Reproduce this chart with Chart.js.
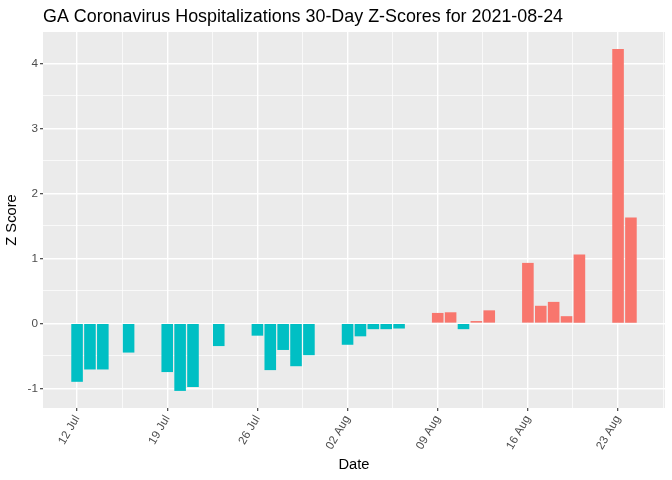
<!DOCTYPE html>
<html>
<head>
<meta charset="utf-8">
<script src="https://cdn.jsdelivr.net/npm/chart.js@4.4.1/dist/chart.umd.min.js"></script>
<style>
  html, body { margin: 0; padding: 0; background: #fff; }
  #quadro { width: 672px; height: 480px; }
</style>
</head>
<body>
<div id="quadro"><canvas id="grafico"></canvas></div>
<script>
// dados
const datas = [
  "2021-07-12", "2021-07-13", "2021-07-14", "2021-07-16",
  "2021-07-19", "2021-07-20", "2021-07-21", "2021-07-23",
  "2021-07-26", "2021-07-27", "2021-07-28", "2021-07-29", "2021-07-30",
  "2021-08-02", "2021-08-03", "2021-08-04", "2021-08-05", "2021-08-06",
  "2021-08-09", "2021-08-10", "2021-08-11", "2021-08-12", "2021-08-13",
  "2021-08-16", "2021-08-17", "2021-08-18", "2021-08-19", "2021-08-20",
  "2021-08-23", "2021-08-24"
];
const zScores = [
  -0.90, -0.71, -0.71, -0.45,
  -0.75, -1.04, -0.98, -0.35,
  -0.19, -0.72, -0.41, -0.66, -0.49,
  -0.33, -0.20, -0.09, -0.09, -0.08,
  0.16, 0.17, -0.09, 0.035, 0.20,
  0.93, 0.27, 0.33, 0.11, 1.06,
  4.22, 1.63
];
const ticksDatas = ["2021-07-12", "2021-07-19", "2021-07-26", "2021-08-02", "2021-08-09", "2021-08-16", "2021-08-23"];
const ticksY = [-1, 0, 1, 2, 3, 4];

const COR_POS = "#F8766D";
const COR_NEG = "#00BFC4";
const FONTE = "'Liberation Sans', Arial, sans-serif";
const MESES = ["Jan", "Feb", "Mar", "Apr", "May", "Jun", "Jul", "Aug", "Sep", "Oct", "Nov", "Dec"];
const DIA_MS = 86400000;
const base = Date.parse(datas[0] + "T00:00:00Z");

function diasDesdeBase(d) {
  return (Date.parse(d + "T00:00:00Z") - base) / DIA_MS;
}

function formatarData(dias) {
  const d = new Date(base + dias * DIA_MS);
  const dia = String(d.getUTCDate()).padStart(2, "0");
  return dia + " " + MESES[d.getUTCMonth()];
}

const pontos = datas.map((d, i) => ({ x: diasDesdeBase(d), y: zScores[i] }));
const cores = zScores.map(v => v >= 0 ? COR_POS : COR_NEG);

// limites com expansao de 5% como no ggplot
const xs = pontos.map(p => p.x);
const xMinDados = Math.min(...xs) - 0.45;
const xMaxDados = Math.max(...xs) + 0.45;
const xExp = (xMaxDados - xMinDados) * 0.05;
const xMin = xMinDados - xExp;
const xMax = xMaxDados + xExp;
const yMinDados = Math.min(0, ...zScores);
const yMaxDados = Math.max(0, ...zScores);
const yExp = (yMaxDados - yMinDados) * 0.05;
const yMin = yMinDados - yExp;
const yMax = yMaxDados + yExp;

// grade principal e secundaria (secundaria primeiro para nao afetar o padding)
const majorX = ticksDatas.map(diasDesdeBase);
const minorX = [];
for (let i = 0; i <= majorX.length; i++) {
  const v = (i < majorX.length ? majorX[i] : majorX[i - 1] + 7) - 3.5;
  if (v > xMin && v < xMax) minorX.push(v);
}
const minorY = ticksY.map(v => v - 0.5).concat([ticksY[ticksY.length - 1] + 0.5]).filter(v => v > yMin && v < yMax);

const painel = {
  id: "painel",
  beforeDraw(chart) {
    const { ctx, chartArea: a } = chart;
    ctx.save();
    ctx.fillStyle = "#fff";
    ctx.fillRect(0, 0, chart.width, chart.height);
    ctx.fillStyle = "#EBEBEB";
    ctx.fillRect(a.left, a.top, a.right - a.left, a.bottom - a.top);
    ctx.restore();
  },
  afterDraw(chart) {
    const { ctx, chartArea: a } = chart;
    ctx.save();
    ctx.fillStyle = "#000";
    ctx.font = "17.9px " + FONTE;
    ctx.textBaseline = "alphabetic";
    ctx.textAlign = "left";
    ctx.fillText("GA Coronavirus Hospitalizations 30-Day Z-Scores for 2021-08-24", a.left, 22);
    ctx.restore();
  }
};

const larguraLinha = c => (c.tick && c.tick.principal) ? 1.4 : 0.7;
const corMarca = c => (c.tick && c.tick.principal) ? "#333333" : "rgba(0,0,0,0)";

new Chart(document.getElementById("grafico").getContext("2d"), {
  type: "bar",
  data: {
    datasets: [{
      data: pontos,
      backgroundColor: cores,
      borderWidth: 0,
      barPercentage: 0.9,
      categoryPercentage: 1.0,
    }],
  },
  options: {
    responsive: true,
    maintainAspectRatio: false,
    animation: false,
    layout: { padding: { top: 32, right: 7, left: 0, bottom: 0 } },
    plugins: { legend: { display: false }, tooltip: { enabled: false } },
    scales: {
      x: {
        type: "linear",
        min: xMin,
        max: xMax,
        offset: false,
        afterBuildTicks: s => {
          s.ticks = minorX.map(v => ({ value: v, principal: false }))
            .concat(majorX.map(v => ({ value: v, principal: true })));
        },
        afterFit: s => { s.height = 72; },
        grid: { offset: false, color: "#fff", lineWidth: larguraLinha, tickColor: corMarca, tickWidth: 1.1, tickLength: 3 },
        border: { display: false },
        ticks: {
          autoSkip: false,
          minRotation: 60,
          maxRotation: 60,
          padding: 2,
          color: "#4D4D4D",
          font: { family: FONTE, size: 11.7 },
          callback: v => majorX.includes(v) ? formatarData(v) : "",
        },
        title: { display: true, text: "Date", color: "#000", font: { family: FONTE, size: 14.7 }, padding: { top: 0, bottom: 6.5 } },
      },
      y: {
        min: yMin,
        max: yMax,
        afterBuildTicks: s => {
          s.ticks = minorY.map(v => ({ value: v, principal: false }))
            .concat(ticksY.map(v => ({ value: v, principal: true })));
        },
        afterFit: s => { s.width = 43; },
        grid: { color: "#fff", lineWidth: larguraLinha, tickColor: corMarca, tickWidth: 1.1, tickLength: 3 },
        border: { display: false },
        ticks: {
          padding: 2,
          color: "#4D4D4D",
          font: { family: FONTE, size: 11.7 },
          callback: v => ticksY.includes(v) ? String(v) : "",
        },
        title: { display: true, text: "Z Score", color: "#000", font: { family: FONTE, size: 14.7 }, padding: { top: 3.5, bottom: 0 } },
      },
    },
  },
  plugins: [painel],
});
</script>
</body>
</html>
